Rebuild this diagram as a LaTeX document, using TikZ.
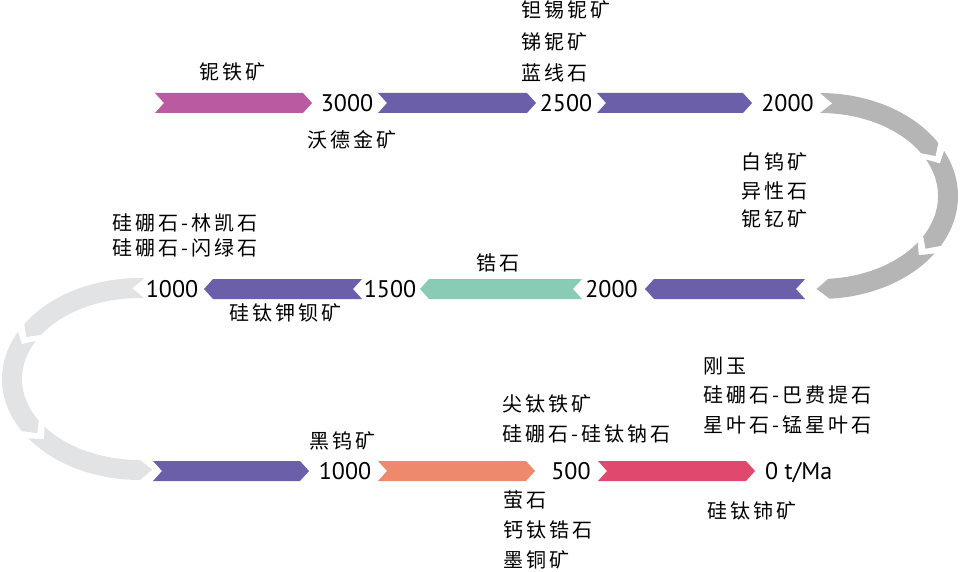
\documentclass[tikz,border=0pt]{standalone}
\usepackage{fontspec}
\setmainfont{PT Sans}
\newfontfamily\cjkfont[LetterSpace=15]{Noto Sans CJK SC}
\usepackage{tikz}
\usetikzlibrary{positioning,calc}
\definecolor{magentaband}{RGB}{186,90,160}
\definecolor{purpleband}{RGB}{106,95,168}
\definecolor{tealband}{RGB}{136,204,182}
\definecolor{salmonband}{RGB}{238,137,108}
\definecolor{roseband}{RGB}{224,72,110}
\definecolor{darkarc}{RGB}{181,181,181}
\definecolor{lightarc}{RGB}{226,227,229}
\tikzstyle{mineral}=[inner sep=0pt,align=left,font=\cjkfont\fontsize{20}{30}\selectfont]
\tikzstyle{age}=[inner sep=0pt,font=\fontsize{24}{28}\selectfont]
\tikzset{leading/.style={font=\cjkfont\fontsize{20}{#1}\selectfont}}
\newcommand{\band}[4]{%
  \pgfmathsetmacro\bandtip{9*sign(#2-#1)}
  \fill[#4] (#1,#3-10) -- ({#2-\bandtip},#3-10) -- (#2,#3) -- ({#2-\bandtip},#3+10)
    -- (#1,#3+10) -- ({#1+\bandtip},#3) -- cycle;}
\newcommand{\arcband}[7]{%
  \pgfmathsetmacro\arctip{5.5*sign(#6-#5)}
  \fill[#7] plot[domain=#5:#6,samples=40] ({#1+(#3+10)*cos(\x)},{#2-(#4+10)*sin(\x)})
    -- ({#1+#3*cos(#6+\arctip)},{#2-#4*sin(#6+\arctip)})
    -- plot[domain=#6:#5,samples=40] ({#1+(#3-10)*cos(\x)},{#2-(#4-10)*sin(\x)})
    -- ({#1+#3*cos(#5+\arctip)},{#2-#4*sin(#5+\arctip)}) -- cycle;}

\begin{document}
\begin{tikzpicture}[x=1pt,y=-1pt]
\useasboundingbox (0,0) rectangle (960,572);
\arcband{820}{196}{128}{93}{90}{31}{darkarc}
\arcband{820}{196}{128}{93}{26}{-29}{darkarc}
\arcband{820}{196}{128}{93}{-34}{-86}{darkarc}
\arcband{140}{379}{128}{91}{88}{147}{lightarc}
\arcband{140}{379}{128}{91}{152}{211}{lightarc}
\arcband{140}{379}{128}{91}{216}{270}{lightarc}
\band{155}{312}{103}{magentaband}
\band{378}{536}{103}{purpleband}
\band{597}{752}{103}{purpleband}
\band{805}{645}{289}{purpleband}
\band{582}{420}{289}{tealband}
\band{362}{204}{289}{purpleband}
\band{153}{309}{471}{purpleband}
\band{378}{535}{471}{salmonband}
\band{598}{755}{471}{roseband}

\node[age] (a3000) at (347,103) {3000};
\node[age] (a2500) at (566,103) {2500};
\node[age] (a2000top) at (787.5,103) {2000};
\node[age] (a2000mid) at (611.5,289) {2000};
\node[age] (a1500) at (390,289) {1500};
\node[age] (a1000mid) at (172,289) {1000};
\node[age] (a1000low) at (345,471) {1000};
\node[age] (a500) at (571,471) {500};
\node[age,anchor=base west] (a0) at (765,479.5) {0 t/Ma};

\node[mineral] (columbite) at (232,72) {铌铁矿};
\node[mineral] (wodginite) at (352,140) {沃德金矿};
\node[mineral,leading=31.5,anchor=west] (tantalite) at (521,41.5) {钽锡铌矿\\锑铌矿\\蓝线石};
\node[mineral,leading=28.5,anchor=west] (scheelite) at (741,190.5) {白钨矿\\异性石\\铌钇矿};
\node[mineral,leading=25,anchor=west] (searlesite) at (112,235.5) {硅硼石-林凯石\\硅硼石-闪绿石};
\node[mineral] (zircon) at (498,263) {锆石};
\node[mineral] (batisite) at (285,313) {硅钛钾钡矿};
\node[mineral] (wolframite) at (342,441) {黑钨矿};
\node[mineral,anchor=west] (ilmenite) at (502,419) {尖钛铁矿\\硅硼石-硅钛钠石};
\node[mineral,leading=29.5,anchor=west] (corundum) at (703,395.5) {刚玉\\硅硼石-巴费提石\\星叶石-锰星叶石};
\node[mineral,anchor=west] (fluorite) at (503,530) {萤石\\钙钛锆石\\墨铜矿};
\node[mineral] (chevkinite) at (752,511) {硅钛铈矿};
\end{tikzpicture}
\end{document}
